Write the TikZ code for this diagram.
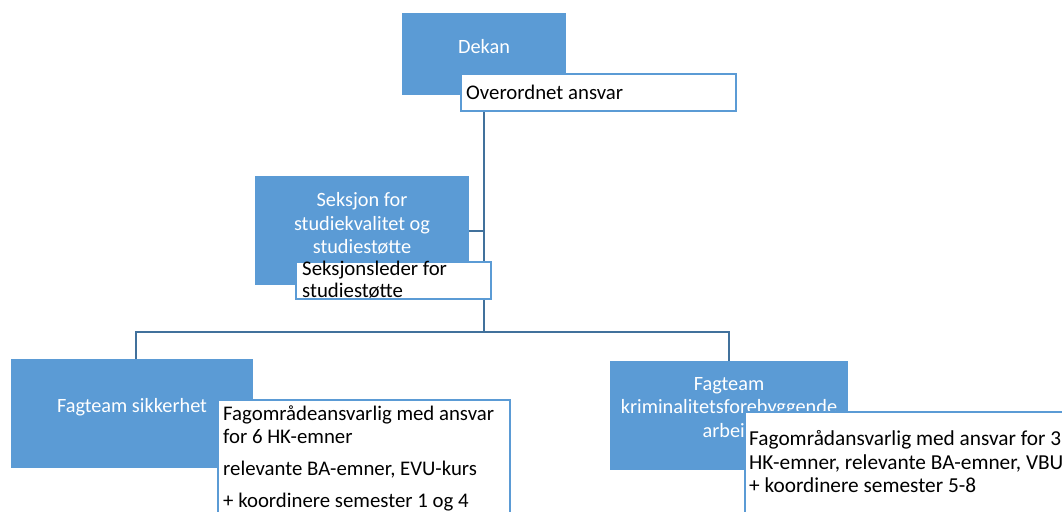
\documentclass[tikz,border=0pt]{standalone}
\usepackage{fontspec}
\setmainfont{Carlito}
\definecolor{boxblue}{HTML}{5B9BD5}
\definecolor{linkblue}{HTML}{41719C}
\begin{document}
\begin{tikzpicture}[x=1pt,y=-1pt,
  bluebox/.style={fill=boxblue, draw=none, inner sep=0pt, outer sep=0pt, anchor=north west},
  whitebox/.style={fill=white, draw=boxblue, line width=1.5pt, inner sep=0pt, outer sep=0pt, anchor=north west},
  bluetxt/.style={text=white, font=\fontsize{20.3}{24}\selectfont, inner sep=0pt, anchor=base},
  blacktxt/.style={text=black, font=\fontsize{20.8}{24}\selectfont, inner sep=0pt, anchor=base west},
  bigtxt/.style={blacktxt, font=\fontsize{21.3}{24}\selectfont},
  link/.style={draw=linkblue, line width=2pt}]
\useasboundingbox (0,0) rectangle (1062,511);
\clip (0,0) rectangle (1062,511);
\fill[white] (0,0) rectangle (1062,511);

% blue boxes
\node[bluebox, minimum width=164pt, minimum height=82pt] (dekan) at (402,13) {};
\node[bluebox, minimum width=214pt, minimum height=109pt] (seksjon) at (255,176) {};
\node[bluebox, minimum width=242pt, minimum height=109pt] (sikker) at (11,359) {};
\node[bluebox, minimum width=238pt, minimum height=109pt] (krim) at (610,361) {};

% junction
\coordinate (hub) at (484,332);
\coordinate (top) at (484,111);

% connectors
\draw[link] (top) -- (hub);
\draw[link] (seksjon.east) -- (seksjon.east -| hub);
\draw[link] ([xshift=4pt]sikker.north) |- (hub) -| (krim.north);

% blue texts
\node[bluetxt] (tdekan) at (484,53) {Dekan};
\node[bluetxt] (tsek1) at (362,206) {Seksjon for};
\node[bluetxt] (tsek2) at (362,230) {studiekvalitet og};
\node[bluetxt] (tsek3) at (362,253) {studiestøtte};
\node[bluetxt] (tsik) at (132,412) {Fagteam sikkerhet};
\node[bluetxt] (tkr1) at (729,390) {Fagteam};
\node[bluetxt] (tkr2) at (729,413) {kriminalitetsforebyggende};
\node[bluetxt] (tkr3) at (729,437) {arbeid};

% white boxes
\node[whitebox, minimum width=275pt, minimum height=37pt] (ansvar) at (461,74) {};
\node[whitebox, minimum width=195pt, minimum height=37pt] (leder) at (296,262) {};
\node[whitebox, minimum width=292pt, minimum height=140pt] (sikkerw) at (218,400) {};
\node[whitebox, minimum width=340pt, minimum height=130pt] (krimw) at (745,412) {};

% black texts
\node[blacktxt] (tans) at (466,99) {Overordnet ansvar};
\node[blacktxt] (tled1) at (302,275) {Seksjonsleder for};
\node[blacktxt] (tled2) at (302,297) {studiestøtte};
\node[blacktxt] (tsw1) at (223,420) {Fagområdeansvarlig med ansvar};
\node[blacktxt] (tsw2) at (223,443) {for 6 HK-emner};
\node[blacktxt] (tsw3) at (223,475) {relevante BA-emner, EVU-kurs};
\node[blacktxt] (tsw4) at (223,507) {+ koordinere semester 1 og 4};
\node[bigtxt] (tkw1) at (749,445) {Fagområdansvarlig med ansvar for 3};
\node[bigtxt] (tkw2) at (749,469) {HK-emner, relevante BA-emner, VBU};
\node[bigtxt] (tkw3) at (749,492) {+ koordinere semester 5-8};
\end{tikzpicture}
\end{document}
